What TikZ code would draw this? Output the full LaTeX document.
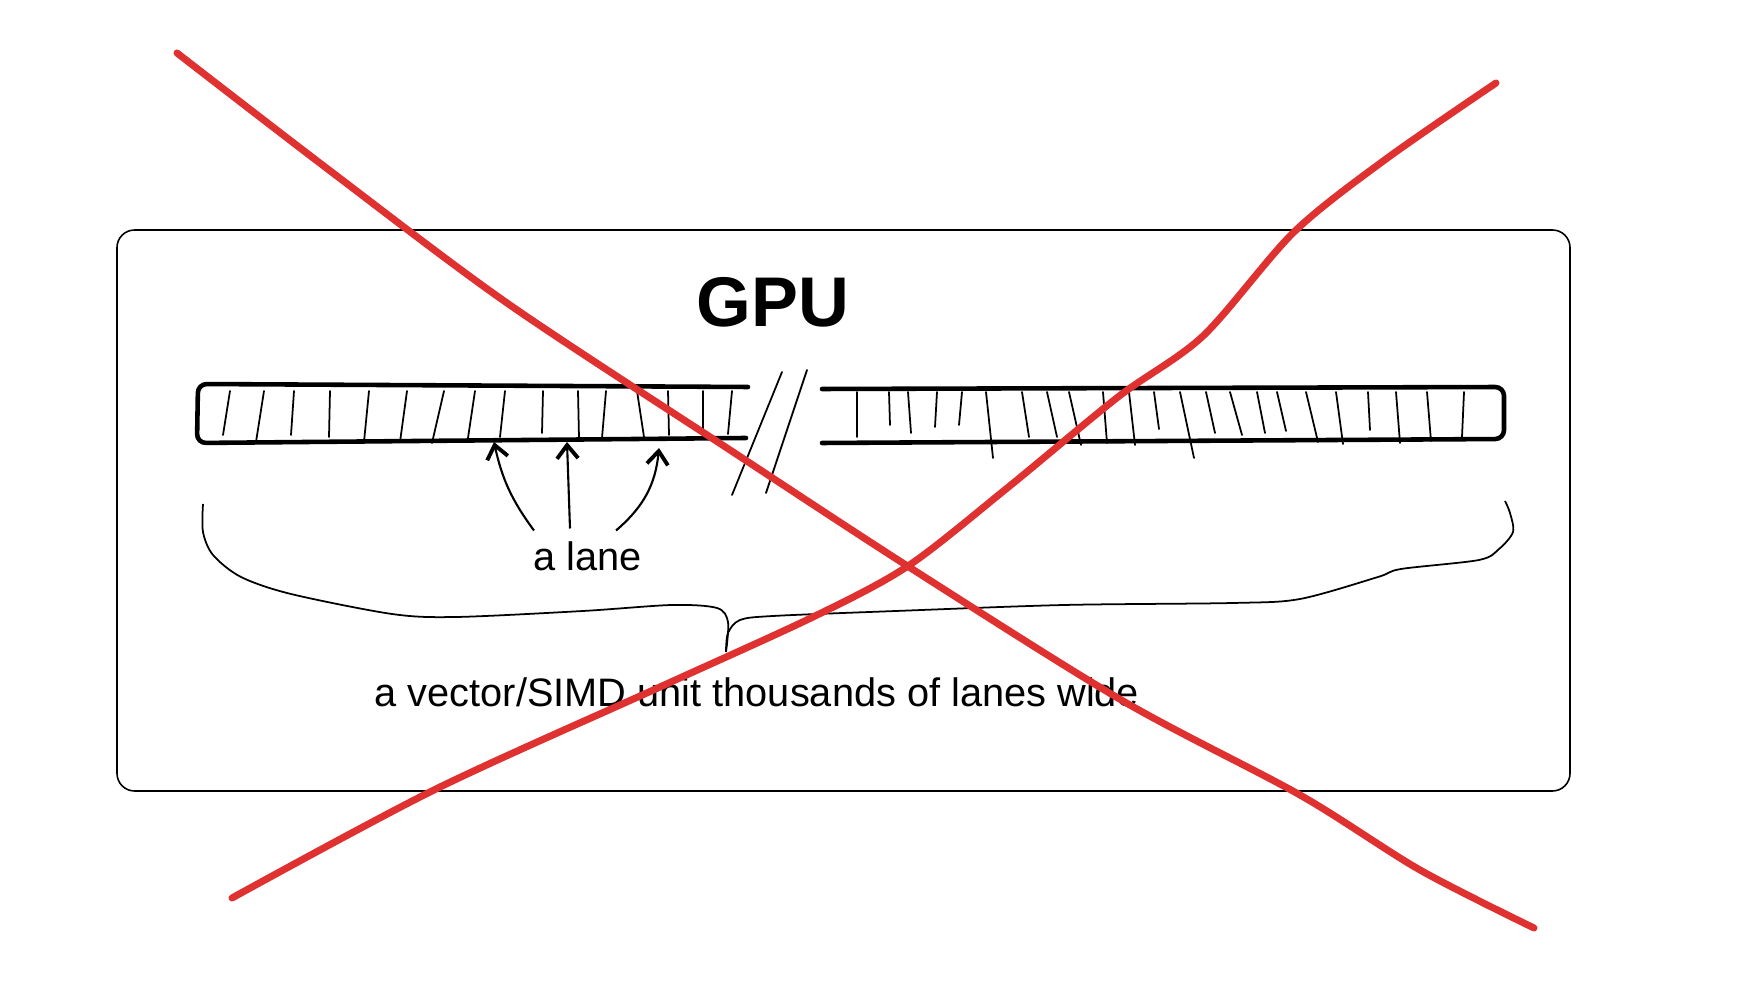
\documentclass[tikz,border=0pt]{standalone}
\usepackage{fontspec}
\setmainfont{Liberation Sans}
\usetikzlibrary{arrows.meta}
\definecolor{rosso}{RGB}{224,49,49}
\tikzset{
  barra/.style={line width=1.3pt, line cap=round, line join=round, rounded corners=2.5pt},
  tacca/.style={line width=0.5pt, line cap=round},
  freccia/.style={line width=0.6pt, -{Straight Barb[length=3.8pt,width=6pt,line width=1.1pt]}},
  croce/.style={rosso, line width=2pt, line cap=round, line join=round},
  testo/.style={font=\fontsize{11.3}{13}\selectfont, inner sep=0pt, anchor=base},
}
\begin{document}
\begin{tikzpicture}[x=0.01cm, y=-0.01cm]
    \useasboundingbox (0,0) rectangle (1757,1007);
    % cornice della gpu
    \draw[line width=0.45pt, rounded corners=5pt] (117,230) rectangle (1570,791);
    \node[font=\bfseries\fontsize{20}{24}\selectfont] (gpu) at (773,302) {GPU};
    % le due barre con le corsie
    \draw[barra] (748,387) -- (198,384) -- (197,443) -- (746,438);
    \draw[barra] (822,389) -- (1504,387) -- (1504,439) -- (822,443);
    \foreach \x/\d/\b in {223/7/435,256/8/442,291/3/435,329/1/437,364/5/442,
        400/7/442,432/12/443,468/7/438,500/5/437,542/1/433,579/-1/438,
        602/4/438,644/-7/437,669/-1/435,703/0/435,728/4/434}
      \draw[tacca] (\x+\d,391) -- (\x,\b);
    \foreach \x/\d/\b in {857/0/437,890/-1/425,911/-3/433,935/2/427,959/3/425,
        993/-7/458,1029/-7/437,1057/-10/437,1081/-12/445,1107/-4/443,
        1135/-6/445,1159/-5/429,1194/-14/458,1215/-9/433,1242/-12/435,
        1265/-8/433,1286/-9/431,1318/-12/442,1343/-7/444,1370/-2/430,
        1400/-4/443,1431/-4/441,1462/2/437}
      \draw[tacca] (\x+\d,392) -- (\x,\b);
    % il taglio
    \coordinate (S1) at (732,495); \coordinate (S2) at (782,372);
    \coordinate (S3) at (766,493); \coordinate (S4) at (807,370);
    \draw[tacca] (S1) -- (S2) (S3) -- (S4);
    % una corsia
    \node[testo] (lane) at (588,571) {a lane};
    \coordinate (L1) at (494,442); \coordinate (L2) at (567,442);
    \coordinate (L3) at (659,448);
    \draw[freccia] ([shift={(-54,-11)}]lane.north) to[bend left=12] (L1);
    \draw[freccia] ([shift={(-18,-13)}]lane.north) -- (L2);
    \draw[freccia] ([shift={(28,-11)}]lane.north) to[bend right=22] (L3);
    % graffa sotto le barre
    \draw[line width=0.5pt] plot[smooth, tension=0.5] coordinates {
      (203,504) (203,532) (213,555) (241,577) (291,594) (392,614) (456,617)
      (583,611) (672,605) (717,608) (728,622) (726,652)};
    \draw[line width=0.5pt] plot[smooth, tension=0.5] coordinates {
      (726,652) (728,633) (740,620) (773,616) (896,611) (1064,605) (1233,603)
      (1300,599) (1378,577) (1401,569) (1479,560) (1499,549) (1513,532)
      (1510,513) (1505,501)};
    \node[testo] (simd) at (757,707) {a vector/SIMD unit thousands of lanes wide};
    % croce rossa
    \draw[croce] plot[smooth, tension=0.5] coordinates {
      (177,53) (329,170) (507,303) (730,450) (909,567) (1123,701) (1300,795)
      (1420,870) (1534,928)};
    \draw[croce] plot[smooth, tension=0.5] coordinates {
      (232,898) (436,789) (660,687) (813,617) (908,566) (1006,489) (1118,397)
      (1203,336) (1294,232) (1386,159) (1496,83)};
  \end{tikzpicture}
\end{document}
